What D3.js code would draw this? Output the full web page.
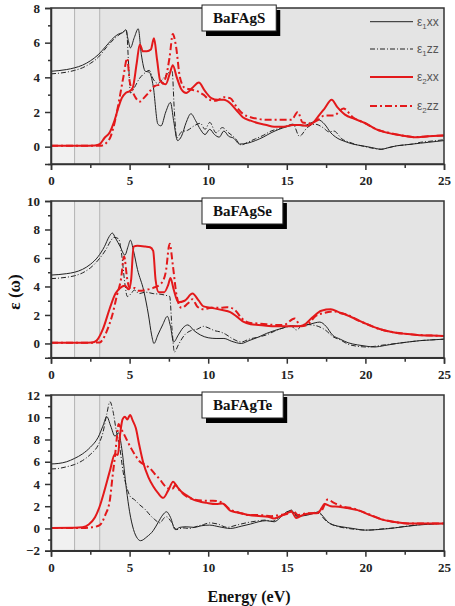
<!DOCTYPE html>
<html>
<head>
<meta charset="utf-8">
<script src="https://cdn.jsdelivr.net/npm/d3@7"></script>
<style>
  body { margin: 0; background: #fff; }
  svg { display: block; }
</style>
</head>
<body>
<svg id="chart" width="455" height="606"></svg>
<script>
// energy axis + band-gap markers
var energyTicks = [0, 5, 10, 15, 20, 25];
var gapLines = [1.5, 3.1];

var compounds = ["BaFAgS", "BaFAgSe", "BaFAgTe"];
var yDomains = [[-1, 8], [-1, 10], [-2, 12]];
var yTickLabels = [[0, 2, 4, 6, 8], [0, 2, 4, 6, 8, 10], [-2, 0, 2, 4, 6, 8, 10, 12]];

// BaFAgS
var sE1xx = [[0,4.35],[1,4.45],[1.5,4.55],[2,4.7],[2.5,4.95],[3,5.3],[3.5,5.8],[4,6.3],[4.3,6.5],[4.6,6.6],[4.75,6.75],[4.9,6.2],[5.05,5.7],[5.3,6.3],[5.55,6.8],[5.75,5.3],[6.0,4.35],[6.25,4.3],[6.5,3.5],[6.8,1.3],[7.0,1.2],[7.3,2.0],[7.6,2.55],[7.8,1.5],[8.05,0.35],[8.3,0.6],[8.6,1.4],[8.9,1.9],[9.2,1.5],[9.5,1.0],[9.8,0.7],[10.1,1.0],[10.4,0.7],[10.7,0.55],[11.0,0.9],[11.3,0.6],[11.6,0.5],[12.0,0.15],[12.5,0.2],[13.0,0.35],[13.5,0.55],[14.0,0.8],[14.5,1.0],[15.0,1.15],[15.5,1.25],[16.0,1.2],[16.5,1.35],[17.0,1.55],[17.4,1.3],[17.8,0.8],[18.2,0.5],[18.7,0.3],[19.2,0.15],[19.8,0.05],[20.4,-0.05],[21.0,-0.15],[21.5,-0.05],[22.0,0.05],[22.5,0.1],[23.0,0.15],[23.5,0.2],[24.0,0.25],[24.5,0.3],[25,0.35]];
var sE1zz = [[0,4.2],[1,4.3],[1.5,4.4],[2,4.55],[2.5,4.8],[3,5.15],[3.5,5.7],[4,6.2],[4.4,6.5],[4.8,6.7],[4.95,4.5],[5.05,3.1],[5.3,3.4],[5.6,3.9],[5.9,4.2],[6.25,4.4],[6.5,3.9],[6.8,3.65],[7.1,3.9],[7.4,4.2],[7.7,4.4],[7.85,2.0],[8.0,0.5],[8.3,0.85],[8.7,0.95],[9.1,1.2],[9.5,1.35],[9.8,1.0],[10.1,1.4],[10.5,0.8],[10.9,1.1],[11.3,0.8],[11.7,0.5],[12.1,0.1],[12.5,0.25],[13,0.45],[13.5,0.65],[14,0.9],[14.5,1.05],[15,1.2],[15.4,1.3],[15.8,0.6],[16.3,1.1],[16.8,1.3],[17.3,1.1],[17.7,0.85],[18.0,0.9],[18.5,0.45],[19,0.25],[19.5,0.1],[20,0],[20.5,-0.1],[21,-0.15],[21.5,-0.05],[22,0.05],[22.5,0.1],[23,0.15],[23.5,0.25],[24,0.3],[24.5,0.35],[25,0.4]];
var sE2xx = [[0,0.05],[1,0.05],[2,0.05],[2.8,0.07],[3.1,0.15],[3.4,0.5],[3.75,0.85],[4.0,1.4],[4.3,2.3],[4.5,2.8],[4.75,3.1],[5.0,3.2],[5.2,3.4],[5.45,4.8],[5.65,5.9],[5.85,5.5],[6.1,5.5],[6.35,5.6],[6.55,6.25],[6.75,5.0],[6.95,3.8],[7.3,3.6],[7.55,4.2],[7.75,4.7],[8.0,4.0],[8.3,3.3],[8.6,3.1],[9.0,3.4],[9.4,3.7],[9.8,3.2],[10.2,2.8],[10.6,2.7],[11.0,2.7],[11.4,2.5],[11.8,2.1],[12.2,1.7],[12.7,1.5],[13.2,1.35],[13.7,1.25],[14.2,1.15],[14.8,1.15],[15.4,1.25],[15.9,1.25],[16.3,1.2],[16.7,1.4],[17.0,1.75],[17.4,2.2],[17.85,2.7],[18.2,2.3],[18.7,1.85],[19.3,1.6],[20.0,1.35],[20.7,1.0],[21.5,0.78],[22.3,0.65],[23.1,0.55],[24,0.6],[25,0.65]];
var sE2zz = [[0,0.05],[2,0.05],[3.2,0.06],[3.5,0.2],[3.8,0.6],[4.1,1.6],[4.4,3.0],[4.6,4.0],[4.85,5.1],[5.0,3.8],[5.15,3.3],[5.4,2.8],[5.65,2.6],[5.9,2.8],[6.2,3.1],[6.6,3.5],[7.0,3.6],[7.3,4.0],[7.55,5.2],[7.75,6.5],[7.95,5.8],[8.2,4.0],[8.5,3.4],[8.9,3.3],[9.3,3.2],[9.7,3.0],[10.1,2.7],[10.5,2.65],[11.0,2.85],[11.4,2.8],[11.8,2.3],[12.2,1.9],[12.7,1.7],[13.2,1.6],[13.7,1.55],[14.2,1.55],[14.8,1.55],[15.3,1.55],[15.7,2.0],[16.0,1.4],[16.5,1.35],[17.0,1.55],[17.4,1.8],[18.0,1.8],[18.6,2.2],[19.2,1.7],[20,1.35],[20.7,1.0],[21.5,0.8],[22.3,0.65],[23.1,0.55],[24,0.6],[25,0.65]];

// BaFAgSe
var seE1xx = [[0,4.8],[1,4.9],[1.5,5.0],[2,5.2],[2.5,5.55],[3,6.1],[3.4,6.8],[3.7,7.5],[3.9,7.75],[4.1,7.4],[4.4,6.8],[4.7,6.2],[4.9,6.8],[5.05,7.25],[5.25,6.5],[5.5,5.2],[5.9,3.7],[6.2,2.0],[6.4,0.6],[6.55,0.0],[6.8,0.6],[7.1,1.3],[7.4,1.9],[7.6,1.2],[7.8,0.1],[8.1,0.6],[8.4,1.1],[8.7,1.3],[9.1,0.9],[9.5,0.6],[10,0.4],[10.5,0.35],[11,0.35],[11.5,0.15],[12.1,0.0],[12.6,0.2],[13.2,0.45],[13.7,0.7],[14.2,0.9],[14.8,1.1],[15.3,1.25],[15.8,1.2],[16.3,1.3],[16.8,1.45],[17.1,1.5],[17.5,1.2],[17.9,0.6],[18.4,0.3],[18.9,0.05],[19.5,-0.1],[20.1,-0.2],[20.6,-0.25],[21.2,-0.15],[22,0],[22.7,0.1],[23.5,0.2],[24.2,0.25],[25,0.3]];
var seE1zz = [[0,4.55],[1,4.65],[1.5,4.75],[2,4.95],[2.5,5.3],[3,5.85],[3.5,6.6],[3.8,7.2],[4.0,7.45],[4.3,7.35],[4.5,6.2],[4.7,4.2],[4.85,3.3],[5.1,3.5],[5.3,3.75],[5.6,3.5],[6.0,3.6],[6.5,3.5],[7.0,3.45],[7.4,3.35],[7.55,3.3],[7.7,1.0],[7.85,-0.6],[8.1,-0.1],[8.5,0.6],[8.9,0.9],[9.3,1.0],[9.7,1.2],[10.0,1.1],[10.4,0.9],[10.8,0.8],[11.1,0.65],[11.6,0.3],[12.1,0.1],[12.6,0.3],[13.2,0.45],[13.7,0.6],[14.2,0.85],[14.8,1.1],[15.3,1.2],[15.6,0.95],[16.1,1.35],[16.6,1.3],[17,1.2],[17.5,0.9],[17.9,0.5],[18.4,0.25],[18.9,-0.05],[19.5,-0.2],[20.1,-0.25],[20.6,-0.2],[21.2,-0.1],[22,0],[22.7,0.1],[23.5,0.2],[24.2,0.25],[25,0.3]];
var seE2xx = [[0,0.05],[2,0.05],[2.6,0.07],[2.9,0.2],[3.3,1.0],[3.75,2.5],[4.1,3.5],[4.4,3.9],[4.7,4.05],[4.95,3.8],[5.1,4.5],[5.25,6.8],[5.5,6.85],[6.0,6.8],[6.3,6.75],[6.5,6.5],[6.65,4.5],[6.85,3.6],[7.2,3.6],[7.45,4.1],[7.6,4.6],[7.8,3.8],[8.1,2.9],[8.5,3.0],[9.0,3.5],[9.4,3.0],[9.7,2.6],[10.2,2.5],[10.9,2.35],[11.4,2.2],[11.8,1.9],[12.2,1.55],[12.7,1.35],[13.2,1.3],[13.7,1.25],[14.2,1.2],[14.8,1.2],[15.3,1.2],[15.7,1.2],[16.1,1.3],[16.6,1.8],[17.2,2.3],[17.8,2.4],[18.3,2.2],[18.8,2.0],[19.4,1.7],[20.0,1.4],[20.8,1.05],[21.6,0.82],[22.5,0.68],[23.3,0.6],[24.2,0.55],[25,0.52]];
var seE2zz = [[0,0.05],[2,0.05],[3.1,0.07],[3.3,0.3],[3.6,1.0],[3.9,2.0],[4.2,3.4],[4.45,4.5],[4.65,6.1],[4.85,4.5],[5.0,3.9],[5.3,3.9],[5.6,3.7],[6.0,3.75],[6.5,3.9],[7.0,4.2],[7.3,5.0],[7.55,7.0],[7.75,5.5],[8.0,3.3],[8.3,2.5],[8.7,2.8],[9.0,3.1],[9.3,2.6],[9.7,2.4],[10.2,2.5],[10.8,2.5],[11.2,2.55],[11.7,2.35],[12.1,1.8],[12.6,1.45],[13.2,1.4],[13.7,1.35],[14.2,1.3],[14.8,1.3],[15.5,1.75],[15.9,1.2],[16.3,1.3],[16.8,1.9],[17.4,2.15],[18.05,2.25],[18.5,2.1],[18.9,2.0],[19.4,1.7],[20,1.4],[20.8,1.05],[21.6,0.82],[22.5,0.68],[23.3,0.6],[24.2,0.55],[25,0.52]];

// BaFAgTe
var teE1xx = [[0,5.8],[0.5,5.85],[1,6.0],[1.5,6.3],[2,6.7],[2.5,7.3],[3.0,8.2],[3.3,9.2],[3.55,10.05],[3.8,9.2],[4.07,8.3],[4.3,8.6],[4.5,7.2],[4.8,3.5],[5.0,1.5],[5.25,-0.1],[5.5,-0.9],[5.7,-1.1],[6.1,-0.75],[6.5,-0.2],[6.8,0.5],[7.1,1.2],[7.35,1.5],[7.6,1.0],[7.9,-0.1],[8.2,0.1],[8.6,0.15],[9.1,0.1],[9.6,0.25],[10.1,0.3],[10.7,0.15],[11.4,0.0],[12.1,0.2],[12.7,0.4],[13.2,0.6],[13.7,0.7],[14.2,0.6],[14.6,1.0],[15.0,1.5],[15.3,1.6],[15.7,1.1],[16.3,1.2],[16.8,1.4],[17.0,1.5],[17.3,1.1],[17.6,0.6],[18.0,0.3],[18.5,0.15],[19.2,0.0],[20,-0.15],[20.8,-0.1],[21.6,0.0],[22.4,0.15],[23.3,0.3],[24.2,0.4],[25,0.45]];
var teE1zz = [[0,5.35],[0.5,5.4],[1,5.55],[1.5,5.75],[2,6.1],[2.5,6.65],[3.0,7.5],[3.3,8.6],[3.55,10.3],[3.75,11.4],[3.95,10.5],[4.15,8.8],[4.35,7.5],[4.6,5.0],[4.8,3.8],[5.03,2.9],[5.3,2.6],[5.66,2.1],[6.0,1.7],[6.3,1.2],[6.6,0.8],[6.93,0.5],[7.2,0.95],[7.35,1.05],[7.6,0.7],[8.0,-0.1],[8.4,0.05],[8.8,0.0],[9.3,0.2],[9.7,0.35],[10.1,0.5],[10.6,0.4],[11.2,0.1],[11.8,0.3],[12.4,0.5],[13.0,0.65],[13.6,0.75],[14.1,0.65],[14.6,1.1],[15.0,1.4],[15.3,1.65],[15.6,1.1],[16.2,1.25],[16.8,1.4],[17.1,1.3],[17.4,0.8],[17.8,0.4],[18.3,0.15],[18.9,0.0],[19.5,-0.1],[20.2,-0.15],[21,-0.05],[21.8,0.05],[22.6,0.2],[23.5,0.35],[24.3,0.4],[25,0.45]];
var teE2xx = [[0,0.05],[1.5,0.06],[2.0,0.1],[2.4,0.35],[2.8,1.0],[3.1,2.0],[3.4,3.4],[3.75,5.2],[4.07,6.7],[4.25,6.6],[4.4,8.5],[4.55,9.8],[4.7,10.05],[4.85,9.8],[5.03,10.2],[5.2,9.7],[5.4,9.0],[5.6,7.6],[5.87,5.9],[6.2,4.6],[6.5,3.8],[6.8,3.2],[7.14,2.75],[7.45,3.4],[7.77,4.2],[8.0,3.8],[8.3,3.3],[8.7,2.9],[9.05,2.6],[9.5,2.4],[9.9,2.3],[10.5,2.2],[10.9,2.25],[11.4,1.6],[11.8,1.45],[12.1,1.36],[12.6,1.2],[13.2,1.12],[13.8,1.06],[14.2,0.9],[14.6,1.1],[14.9,1.3],[15.3,1.5],[15.6,0.95],[16.0,1.2],[16.4,1.35],[17.0,1.4],[17.2,1.8],[17.4,2.2],[17.8,2.0],[18.3,1.95],[19.0,1.8],[19.5,1.65],[20.3,1.2],[21.2,0.75],[22,0.55],[22.7,0.45],[23.8,0.45],[25,0.45]];
var teE2zz = [[0,0.05],[2,0.05],[2.6,0.1],[3.1,0.3],[3.45,1.2],[3.75,2.6],[3.9,4.5],[4.07,6.5],[4.2,8.3],[4.3,9.4],[4.45,9.0],[4.6,8.6],[4.81,8.0],[5.1,7.2],[5.4,6.5],[5.66,6.0],[6.0,5.7],[6.3,5.4],[6.6,4.9],[6.93,4.4],[7.2,3.9],[7.45,3.6],[7.75,3.6],[7.9,3.9],[8.2,3.4],[8.6,2.9],[9.1,2.6],[9.7,2.5],[10.3,2.5],[10.9,2.3],[11.4,1.7],[12,1.4],[12.6,1.2],[13.3,1.2],[14.0,1.1],[14.5,1.2],[15.0,1.3],[15.4,1.6],[15.7,1.2],[16.2,1.35],[16.7,1.4],[17.2,1.6],[17.6,2.6],[18.0,2.3],[18.5,2.0],[19.2,1.8],[20.0,1.4],[21.0,0.85],[22,0.55],[22.7,0.45],[23.8,0.45],[25,0.45]];

var seriesByPanel = [
    [sE1xx, sE1zz, sE2xx, sE2zz],
    [seE1xx, seE1zz, seE2xx, seE2zz],
    [teE1xx, teE1zz, teE2xx, teE2zz]
];

var legendSub = ["1", "1", "2", "2"];
var legendDir = ["xx", "zz", "xx", "zz"];

// styles for the four curves
var lineStyles = [
    {color: "#222", width: 1, dash: null},
    {color: "#222", width: 1, dash: "5,2,1,2"},
    {color: "#e3191b", width: 2, dash: null},
    {color: "#e3191b", width: 2, dash: "7,3,2,3"}
];

var svg = d3.select("#chart");

var left = 51, right = 444;
var panelBoxes = [
    {top: 8, bottom: 164},
    {top: 201, bottom: 357.7},
    {top: 395, bottom: 550.7}
];

var xScale = d3.scaleLinear().domain([0, 25]).range([left, right]);

var serif = "'Liberation Serif', 'Times New Roman', serif";

panelBoxes.forEach(function(box, i) {
    var yScale = d3.scaleLinear()
        .domain(yDomains[i])
        .range([box.bottom, box.top]);

    var g = svg.append("g");

    // shaded background
    g.append("rect")
        .attr("x", left).attr("y", box.top)
        .attr("width", right - left).attr("height", box.bottom - box.top)
        .attr("fill", "#e4e4e4");
    g.append("rect")
        .attr("x", xScale(0)).attr("y", box.top)
        .attr("width", xScale(gapLines[0]) - xScale(0)).attr("height", box.bottom - box.top)
        .attr("fill", "#f1f1f1");
    g.append("rect")
        .attr("x", xScale(gapLines[0])).attr("y", box.top)
        .attr("width", xScale(gapLines[1]) - xScale(gapLines[0])).attr("height", box.bottom - box.top)
        .attr("fill", "#eaeaea");

    gapLines.forEach(function(e) {
        g.append("line")
            .attr("x1", xScale(e)).attr("x2", xScale(e))
            .attr("y1", box.top).attr("y2", box.bottom)
            .attr("stroke", "#b4b4b4").attr("stroke-width", 1);
    });

    var clipId = "clip" + i;
    svg.append("clipPath").attr("id", clipId)
        .append("rect")
        .attr("x", left).attr("y", box.top)
        .attr("width", right - left).attr("height", box.bottom - box.top);

    var line = d3.line()
        .x(d => xScale(d[0]))
        .y(d => yScale(d[1]))
        .curve(d3.curveMonotoneX);

    seriesByPanel[i].forEach(function(data, k) {
        var st = lineStyles[k];
        g.append("path")
            .datum(data)
            .attr("clip-path", "url(#" + clipId + ")")
            .attr("d", line)
            .attr("fill", "none")
            .attr("stroke", st.color)
            .attr("stroke-width", st.width)
            .attr("stroke-dasharray", st.dash)
            .attr("stroke-linejoin", "round");
    });

    // frame
    g.append("rect")
        .attr("x", left).attr("y", box.top)
        .attr("width", right - left).attr("height", box.bottom - box.top)
        .attr("fill", "none")
        .attr("stroke", "#333").attr("stroke-width", 1.5);

    // x axis
    g.append("g")
        .attr("transform", "translate(0," + box.bottom + ")")
        .call(d3.axisBottom(xScale).tickValues(energyTicks).tickSize(6).tickPadding(6).tickFormat(d3.format("d")));
    g.append("g")
        .attr("transform", "translate(0," + box.bottom + ")")
        .call(d3.axisBottom(xScale).tickValues([2.5, 7.5, 12.5, 17.5, 22.5]).tickSize(4).tickFormat(""))
        .select(".domain").remove();

    // y axis
    var minor = d3.range(yDomains[i][0], yDomains[i][1] + 1, 1).filter(v => yTickLabels[i].indexOf(v) < 0);
    g.append("g")
        .attr("transform", "translate(" + left + ",0)")
        .call(d3.axisLeft(yScale).tickValues(yTickLabels[i]).tickSize(6).tickPadding(5).tickFormat(d3.format("d")));
    g.append("g")
        .attr("transform", "translate(" + left + ",0)")
        .call(d3.axisLeft(yScale).tickValues(minor).tickSize(3).tickFormat(""))
        .select(".domain").remove();

    g.selectAll(".tick line").attr("stroke", "#333").attr("stroke-width", 1.5);
    g.selectAll(".domain").attr("stroke", "#333").attr("stroke-width", 1.5);
    g.selectAll(".tick text")
        .style("font-family", serif)
        .style("font-weight", "bold")
        .style("font-size", "13px")
        .attr("fill", "#222");

    // compound label box with shadow
    var shadow = g.append("rect").attr("fill", "#000");
    var frame = g.append("rect")
        .attr("fill", "#fff").attr("stroke", "#222").attr("stroke-width", 1);
    var label = g.append("text")
        .style("font-family", serif)
        .style("font-weight", "bold")
        .style("font-size", "15px")
        .attr("text-anchor", "middle")
        .attr("fill", "#111")
        .text(compounds[i]);
    var w = label.node().getComputedTextLength() + 22;
    var bx = 202, by = box.top - 3, bh = 26;
    shadow.attr("x", bx + 4).attr("y", by + 5).attr("width", w).attr("height", bh);
    frame.attr("x", bx).attr("y", by).attr("width", w).attr("height", bh);
    label.attr("x", bx + w / 2).attr("y", by + 18);
});

// legend in the first panel
var legendY = [21.7, 49, 77, 106];
var leg = svg.append("g");
lineStyles.forEach(function(st, k) {
    leg.append("line")
        .attr("x1", 370).attr("x2", 413)
        .attr("y1", legendY[k]).attr("y2", legendY[k])
        .attr("stroke", st.color)
        .attr("stroke-width", st.width)
        .attr("stroke-dasharray", st.dash);
    var t = leg.append("text")
        .attr("x", 417).attr("y", legendY[k] + 4)
        .style("font-family", "'Liberation Sans', Arial, sans-serif")
        .style("font-size", "12px")
        .attr("fill", "#555");
    t.append("tspan").text("\u03b5");
    t.append("tspan").attr("dy", 3).style("font-size", "8px").text(legendSub[k]);
    t.append("tspan").attr("dy", -3).text(legendDir[k]);
});

// axis titles
svg.append("text")
    .attr("transform", "translate(20,292)rotate(-90)")
    .attr("text-anchor", "middle")
    .style("font-family", serif)
    .style("font-weight", "bold")
    .style("font-size", "17px")
    .attr("fill", "#111")
    .text("\u03b5 (\u03c9)");

svg.append("text")
    .attr("x", 249).attr("y", 602)
    .attr("text-anchor", "middle")
    .style("font-family", serif)
    .style("font-weight", "bold")
    .style("font-size", "16px")
    .attr("fill", "#111")
    .text("Energy (eV)");
</script>
</body>
</html>
